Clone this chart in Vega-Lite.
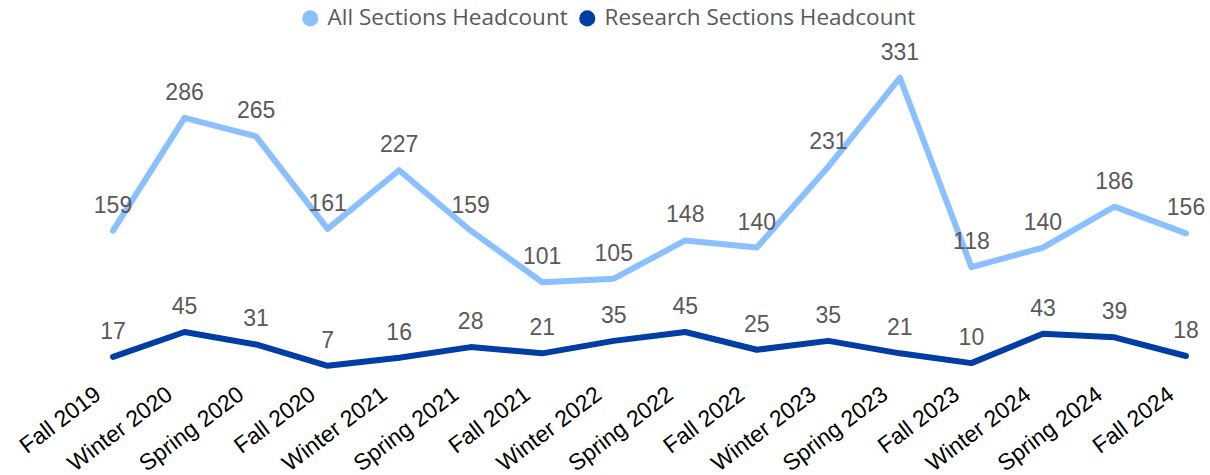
{
  "$schema": "https://vega.github.io/schema/vega-lite/v6.json",
  "width": 1073,
  "height": 320,
  "autosize": "none",
  "padding": {"left": 113, "top": 52, "right": 24, "bottom": 103},
  "background": "white",
  "config": {"view": {"stroke": null}},
  "data": {"values": [
    {"term": "Fall 2019", "series": "All Sections Headcount", "value": 159},
    {"term": "Winter 2020", "series": "All Sections Headcount", "value": 286},
    {"term": "Spring 2020", "series": "All Sections Headcount", "value": 265},
    {"term": "Fall 2020", "series": "All Sections Headcount", "value": 161},
    {"term": "Winter 2021", "series": "All Sections Headcount", "value": 227},
    {"term": "Spring 2021", "series": "All Sections Headcount", "value": 159},
    {"term": "Fall 2021", "series": "All Sections Headcount", "value": 101},
    {"term": "Winter 2022", "series": "All Sections Headcount", "value": 105},
    {"term": "Spring 2022", "series": "All Sections Headcount", "value": 148},
    {"term": "Fall 2022", "series": "All Sections Headcount", "value": 140},
    {"term": "Winter 2023", "series": "All Sections Headcount", "value": 231},
    {"term": "Spring 2023", "series": "All Sections Headcount", "value": 331},
    {"term": "Fall 2023", "series": "All Sections Headcount", "value": 118},
    {"term": "Winter 2024", "series": "All Sections Headcount", "value": 140},
    {"term": "Spring 2024", "series": "All Sections Headcount", "value": 186},
    {"term": "Fall 2024", "series": "All Sections Headcount", "value": 156},
    {"term": "Fall 2019", "series": "Research Sections Headcount", "value": 17},
    {"term": "Winter 2020", "series": "Research Sections Headcount", "value": 45},
    {"term": "Spring 2020", "series": "Research Sections Headcount", "value": 31},
    {"term": "Fall 2020", "series": "Research Sections Headcount", "value": 7},
    {"term": "Winter 2021", "series": "Research Sections Headcount", "value": 16},
    {"term": "Spring 2021", "series": "Research Sections Headcount", "value": 28},
    {"term": "Fall 2021", "series": "Research Sections Headcount", "value": 21},
    {"term": "Winter 2022", "series": "Research Sections Headcount", "value": 35},
    {"term": "Spring 2022", "series": "Research Sections Headcount", "value": 45},
    {"term": "Fall 2022", "series": "Research Sections Headcount", "value": 25},
    {"term": "Winter 2023", "series": "Research Sections Headcount", "value": 35},
    {"term": "Spring 2023", "series": "Research Sections Headcount", "value": 21},
    {"term": "Fall 2023", "series": "Research Sections Headcount", "value": 10},
    {"term": "Winter 2024", "series": "Research Sections Headcount", "value": 43},
    {"term": "Spring 2024", "series": "Research Sections Headcount", "value": 39},
    {"term": "Fall 2024", "series": "Research Sections Headcount", "value": 18}
  ]},
  "encoding": {
    "x": {
      "field": "term", "type": "ordinal", "sort": null,
      "scale": {"type": "point", "padding": 0},
      "axis": {
        "title": null, "labelAngle": -37, "labelAlign": "right", "labelBaseline": "bottom",
        "labelFont": "Liberation Sans", "labelFontSize": 23, "labelColor": "#000000",
        "domain": false, "ticks": false, "labelPadding": 29, "labelOffset": -8, "grid": false, "labelLimit": 300, "labelOverlap": false
      }
    },
    "y": {
      "field": "value", "type": "quantitative",
      "scale": {"domain": [0, 360], "nice": false, "zero": true},
      "axis": null
    },
    "color": {
      "field": "series", "type": "nominal",
      "scale": {"domain": ["All Sections Headcount", "Research Sections Headcount"], "range": ["#8AC0FF", "#003DA5"]},
      "legend": {
        "title": null, "orient": "none", "direction": "horizontal",
        "legendX": 186, "legendY": -45,
        "symbolType": "circle", "symbolSize": 260, "symbolStrokeWidth": 0, "symbolFillOpacity": 1,
        "labelFont": "Open Sans", "labelFontSize": 22.5, "labelColor": "#595959", "labelLimit": 400,
        "columnPadding": 8, "labelOffset": 6,
        "encode": {"symbols": {"update": {"fill": {"scale": "color", "field": "value"}, "strokeWidth": {"value": 0}}}}
      }
    }
  },
  "layer": [
    {"mark": {"type": "line", "strokeWidth": 6, "strokeCap": "round", "strokeJoin": "round"}},
    {"mark": {"type": "text", "dy": -25, "baseline": "middle", "font": "Liberation Sans", "fontSize": 23, "color": "#595959"},
     "encoding": {"text": {"field": "value", "type": "quantitative"}, "color": {"value": "#595959"}}}
  ]
}
